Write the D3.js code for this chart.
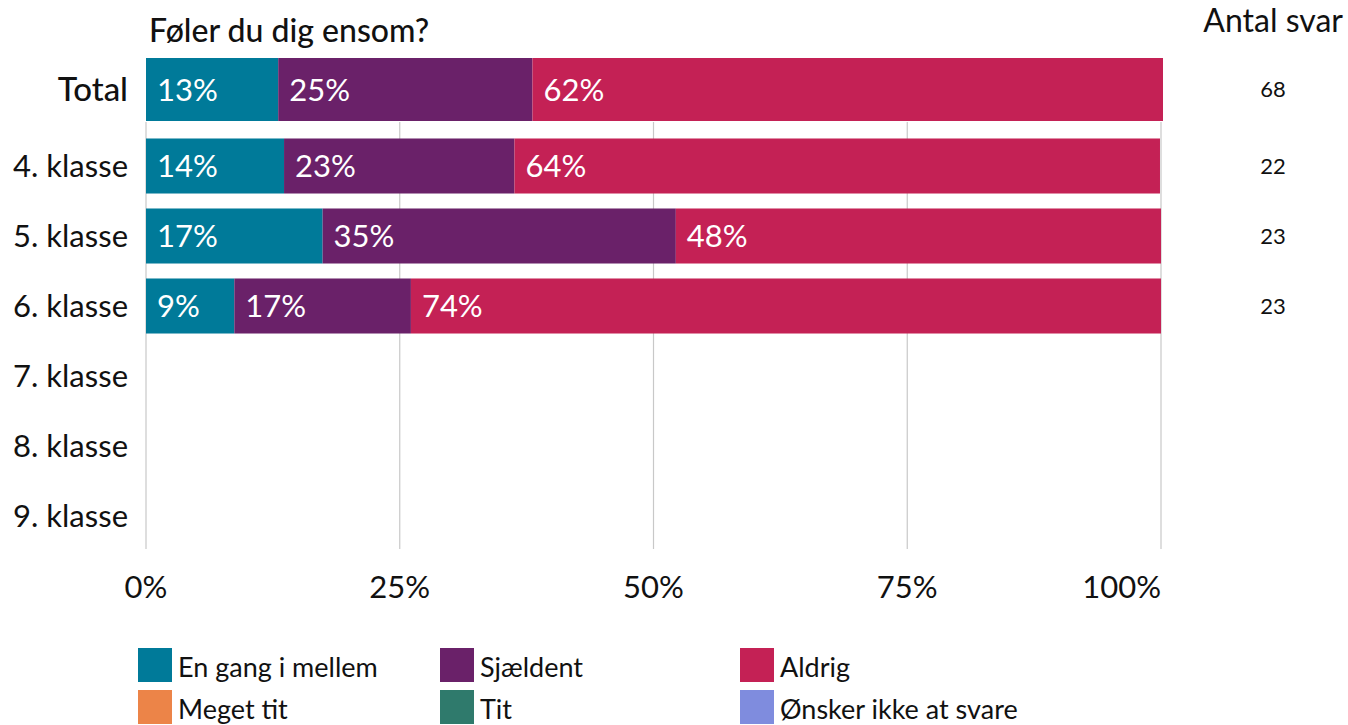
<!DOCTYPE html>
<html><head><meta charset="utf-8">
<script src="https://cdn.jsdelivr.net/npm/d3@7"></script>
<style>body{margin:0;background:#fff;font-family:Lato,sans-serif;}</style>
</head><body>
<svg id="c" width="1348" height="725"></svg>
<script>
const title = "Føler du dig ensom?";
const countTitle = "Antal svar";
const categories = ["Total","4. klasse","5. klasse","6. klasse","7. klasse","8. klasse","9. klasse"];
const seriesNames = ["En gang i mellem","Sjældent","Aldrig","Meget tit","Tit","Ønsker ikke at svare"];
const seriesColors = ["#007a99","#6a2169","#c42155","#ec8448","#2f7a6c","#7f8cde"];
const enGang = [13.0,13.6,17.4,8.7,null,null,null];
const sjaeldent = [25.0,22.7,34.8,17.4,null,null,null];
const aldrig = [62.0,63.6,47.8,73.9,null,null,null];
const antal = [68,22,23,23,null,null,null];
const xTicks = [0,25,50,75,100];

const svg = d3.select("#c");
const x = d3.scaleLinear().domain([0,100]).range([146,1161]);
const xTotal = d3.scaleLinear().domain([0,100]).range([146,1163]);
const y = d3.scaleBand().domain(categories.slice(1)).range([131,551]).paddingInner(0.214).paddingOuter(0.107);

// gridlines
svg.append("g").selectAll("line").data(xTicks).join("line")
  .attr("x1",d=>x(d)).attr("x2",d=>x(d)).attr("y1",122).attr("y2",549)
  .attr("stroke","#c8c8c8").attr("stroke-width",1.2);

// tick labels
svg.append("g").selectAll("text").data(xTicks).join("text")
  .attr("x",d=>x(d)).attr("y",598)
  .attr("text-anchor",(d,i)=>i===xTicks.length-1 ? "end" : "middle")
  .attr("font-size",31).attr("fill","#111").text(d=>d+"%");

const series = [enGang, sjaeldent, aldrig];
categories.forEach((cat,i)=>{
  const isTotal = i===0;
  const sx = isTotal ? xTotal : x;
  const y0 = isTotal ? 58 : y(cat);
  const h = isTotal ? 63 : y.bandwidth();
  let cum = 0;
  series.forEach((s,j)=>{
    const v = s[i];
    if (v==null) return;
    svg.append("rect").attr("x",sx(cum)).attr("y",y0).attr("width",sx(cum+v)-sx(cum)).attr("height",h)
      .attr("fill",seriesColors[j]);
    svg.append("text").attr("x",sx(cum)+11).attr("y",y0+h/2).attr("dy","0.36em")
      .attr("font-size",31).attr("fill","#fff").text(Math.round(v)+"%");
    cum += v;
  });
  svg.append("text").attr("x",128).attr("y",isTotal?89:y0+h/2).attr("dy","0.36em")
    .attr("text-anchor","end").attr("font-size",isTotal?33:31).attr("font-weight",isTotal?500:400)
    .attr("fill","#111").text(cat);
  if (antal[i]!=null) {
    svg.append("text").attr("x",1273).attr("y",isTotal?89:y0+h/2).attr("dy","0.36em")
      .attr("text-anchor","middle").attr("font-size",22).attr("fill","#111").text(antal[i]);
  }
});

svg.append("text").attr("x",149).attr("y",42).attr("font-size",32).attr("font-weight",500).attr("fill","#111").text(title);
svg.append("text").attr("x",1343).attr("y",32).attr("text-anchor","end").attr("font-size",32).attr("fill","#111").text(countTitle);

// legend
const lx = [138,440,740];
seriesNames.forEach((n,k)=>{
  const col = k%3, row = Math.floor(k/3);
  const gx = lx[col], gy = 648 + row*42;
  svg.append("rect").attr("x",gx).attr("y",gy).attr("width",34).attr("height",34).attr("fill",seriesColors[k]);
  svg.append("text").attr("x",gx+40).attr("y",gy+19).attr("dy","0.36em").attr("font-size",27).attr("fill","#111").text(n);
});
</script>
</body></html>
